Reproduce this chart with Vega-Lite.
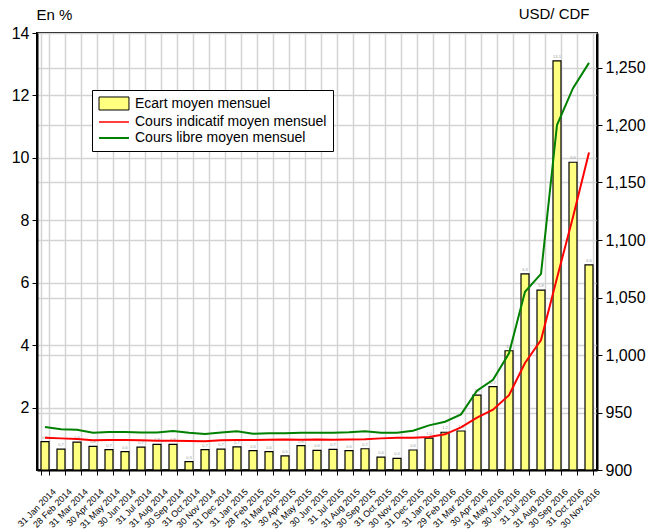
{
  "$schema": "https://vega.github.io/schema/vega-lite/v6.json",
  "autosize": {"type": "none"},
  "padding": {"left": 37, "top": 33, "right": 63, "bottom": 62},
  "width": 560,
  "height": 437,
  "background": "white",
  "config": {
    "view": {"stroke": "black", "strokeWidth": 2},
    "font": "Liberation Sans",
    "axis": {
      "domainColor": "black",
      "domainWidth": 2,
      "tickColor": "black",
      "tickSize": 5,
      "gridColor": "#d4d4d4",
      "gridWidth": 1.5,
      "labelColor": "black",
      "titleColor": "black",
      "labelFont": "Liberation Sans",
      "titleFont": "Liberation Sans",
      "titleFontWeight": "normal"
    },
    "legend": {
      "orient": "none",
      "legendX": 55,
      "legendY": 57,
      "title": null,
      "fillColor": "white",
      "strokeColor": "black",
      "padding": 6,
      "symbolSize": 196,
      "symbolOpacity": 1,
      "labelOffset": 21,
      "labelFontSize": 14,
      "labelLimit": 400,
      "labelFont": "Liberation Sans",
      "labelColor": "black",
      "rowPadding": 1
    }
  },
  "data": {
    "values": [
      {"d": "31 Jan 2014", "ecart": 0.91, "indicatif": 928.0, "libre": 937.4},
      {"d": "28 Feb 2014", "ecart": 0.67, "indicatif": 927.5, "libre": 935.4},
      {"d": "31 Mar 2014", "ecart": 0.89, "indicatif": 927.0, "libre": 935.0},
      {"d": "30 Apr 2014", "ecart": 0.76, "indicatif": 925.8, "libre": 932.4},
      {"d": "31 May 2014", "ecart": 0.65, "indicatif": 926.0, "libre": 933.0},
      {"d": "30 Jun 2014", "ecart": 0.59, "indicatif": 926.0, "libre": 933.0},
      {"d": "31 Jul 2014", "ecart": 0.73, "indicatif": 925.8, "libre": 932.7},
      {"d": "31 Aug 2014", "ecart": 0.82, "indicatif": 925.5, "libre": 932.7},
      {"d": "30 Sep 2014", "ecart": 0.82, "indicatif": 925.5, "libre": 934.0},
      {"d": "31 Oct 2014", "ecart": 0.27, "indicatif": 925.2, "libre": 932.4},
      {"d": "30 Nov 2014", "ecart": 0.65, "indicatif": 925.0, "libre": 931.3},
      {"d": "31 Dec 2014", "ecart": 0.67, "indicatif": 925.8, "libre": 932.7},
      {"d": "31 Jan 2015", "ecart": 0.74, "indicatif": 926.0, "libre": 933.6},
      {"d": "28 Feb 2015", "ecart": 0.62, "indicatif": 926.0, "libre": 931.6},
      {"d": "31 Mar 2015", "ecart": 0.59, "indicatif": 926.3, "libre": 932.0},
      {"d": "30 Apr 2015", "ecart": 0.45, "indicatif": 926.5, "libre": 932.0},
      {"d": "31 May 2015", "ecart": 0.78, "indicatif": 926.3, "libre": 932.4},
      {"d": "30 Jun 2015", "ecart": 0.63, "indicatif": 926.5, "libre": 932.4},
      {"d": "31 Jul 2015", "ecart": 0.66, "indicatif": 926.3, "libre": 932.4},
      {"d": "31 Aug 2015", "ecart": 0.62, "indicatif": 926.5, "libre": 932.8},
      {"d": "30 Sep 2015", "ecart": 0.68, "indicatif": 926.7, "libre": 933.6},
      {"d": "31 Oct 2015", "ecart": 0.41, "indicatif": 927.5, "libre": 932.4},
      {"d": "30 Nov 2015", "ecart": 0.37, "indicatif": 928.0, "libre": 932.4},
      {"d": "31 Dec 2015", "ecart": 0.64, "indicatif": 928.0, "libre": 934.2},
      {"d": "31 Jan 2016", "ecart": 1.02, "indicatif": 928.7, "libre": 938.8},
      {"d": "29 Feb 2016", "ecart": 1.21, "indicatif": 931.0, "libre": 942.0},
      {"d": "31 Mar 2016", "ecart": 1.25, "indicatif": 937.0, "libre": 948.4},
      {"d": "30 Apr 2016", "ecart": 2.4, "indicatif": 945.5, "libre": 969.0},
      {"d": "31 May 2016", "ecart": 2.67, "indicatif": 952.5, "libre": 978.5},
      {"d": "30 Jun 2016", "ecart": 3.82, "indicatif": 965.0, "libre": 1001.5},
      {"d": "31 Jul 2016", "ecart": 6.28, "indicatif": 993.0, "libre": 1055.0},
      {"d": "31 Aug 2016", "ecart": 5.76, "indicatif": 1013.0, "libre": 1070.5},
      {"d": "30 Sep 2016", "ecart": 13.11, "indicatif": 1067.0, "libre": 1200.0},
      {"d": "31 Oct 2016", "ecart": 9.86, "indicatif": 1120.0, "libre": 1232.0},
      {"d": "30 Nov 2016", "ecart": 6.57, "indicatif": 1176.0, "libre": 1254.0}
    ]
  },
  "layer": [
    {
      "encoding": {
        "x": {
          "field": "d",
          "type": "ordinal",
          "sort": null,
          "scale": {"paddingInner": 0.5, "paddingOuter": 0.25},
          "axis": {
            "title": null,
            "tickBand": "extent",
            "grid": true,
            "labelAngle": -45,
            "labelFontSize": 9,
            "labelOffset": 6,
            "labelPadding": 12
          }
        },
        "y": {
          "field": "ecart",
          "type": "quantitative",
          "scale": {"domain": [0, 14], "nice": false},
          "axis": {
            "values": [2, 4, 6, 8, 10, 12, 14],
            "grid": true,
            "labelFontSize": 16,
            "labelPadding": 3,
            "title": "En %",
            "titleAngle": 0,
            "titleX": -1,
            "titleY": -19,
            "titleAlign": "left",
            "titleBaseline": "middle",
            "titleFontSize": 15
          }
        }
      },
      "layer": [
        {"mark": {"type": "bar", "fill": "#ffff80", "stroke": "black", "strokeWidth": 1.2}},
        {
          "mark": {"type": "text", "fontSize": 4, "dy": -4, "color": "#9a9a9a"},
          "encoding": {"text": {"field": "ecart", "type": "quantitative", "format": ".1f"}}
        }
      ]
    },
    {
      "transform": [{"fold": ["indicatif", "libre"], "as": ["serie", "taux"]}],
      "encoding": {
        "x": {"field": "d", "type": "ordinal", "sort": null},
        "y": {
          "field": "taux",
          "type": "quantitative",
          "scale": {"domain": [900, 1280], "nice": false, "zero": false},
          "axis": {
            "orient": "right",
            "values": [900, 950, 1000, 1050, 1100, 1150, 1200, 1250],
            "format": ",.0f",
            "grid": true,
            "labelFontSize": 16,
            "labelPadding": 3,
            "title": "USD/ CDF",
            "titleAngle": 0,
            "titleX": -8,
            "titleY": -20,
            "titleAlign": "right",
            "titleBaseline": "middle",
            "titleFontSize": 15
          }
        }
      },
      "layer": [
        {
          "transform": [{"filter": "datum.serie == 'indicatif'"}],
          "mark": {"type": "line", "strokeWidth": 2, "stroke": "#ff0000"}
        },
        {
          "transform": [{"filter": "datum.serie == 'libre'"}],
          "mark": {"type": "line", "strokeWidth": 2, "stroke": "#008000"}
        }
      ]
    },
    {
      "data": {
        "values": [
          {"serie": "Ecart moyen mensuel"},
          {"serie": "Cours indicatif moyen mensuel"},
          {"serie": "Cours libre moyen mensuel"}
        ]
      },
      "mark": {"type": "point", "opacity": 0},
      "encoding": {
        "fill": {
          "field": "serie",
          "type": "nominal",
          "scale": {
            "domain": ["Ecart moyen mensuel", "Cours indicatif moyen mensuel", "Cours libre moyen mensuel"],
            "range": ["#ffff80", "transparent", "transparent"]
          }
        },
        "stroke": {
          "field": "serie",
          "type": "nominal",
          "scale": {
            "domain": ["Ecart moyen mensuel", "Cours indicatif moyen mensuel", "Cours libre moyen mensuel"],
            "range": ["#000000", "#ff0000", "#008000"]
          }
        },
        "shape": {
          "field": "serie",
          "type": "nominal",
          "scale": {
            "domain": ["Ecart moyen mensuel", "Cours indicatif moyen mensuel", "Cours libre moyen mensuel"],
            "range": ["M-1,-0.93H3.28V0.93H-1Z", "M-1,0H3.28", "M-1,0H3.28"]
          }
        },
        "strokeWidth": {
          "field": "serie",
          "type": "ordinal",
          "scale": {
            "domain": ["Ecart moyen mensuel", "Cours indicatif moyen mensuel", "Cours libre moyen mensuel"],
            "range": [1, 2, 2]
          }
        }
      }
    }
  ],
  "resolve": {"scale": {"y": "independent"}}
}
